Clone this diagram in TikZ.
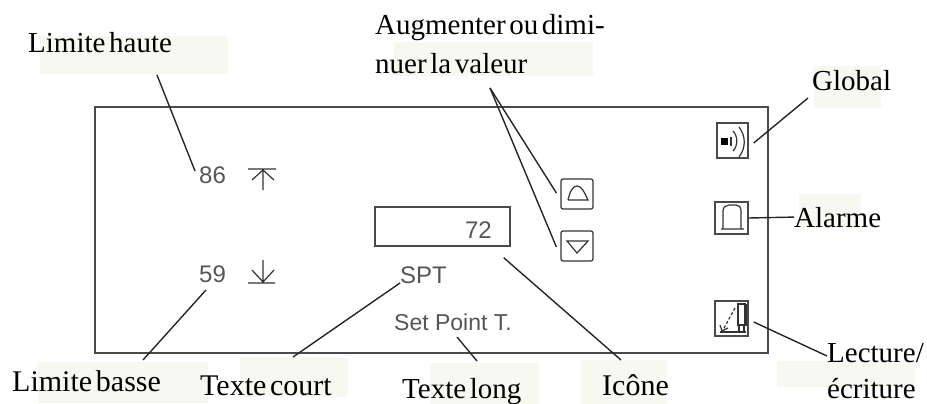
\documentclass[tikz,border=0pt]{standalone}
\usepackage{fontspec}
\setmainfont[WordSpace=0.5]{Liberation Serif}
\newfontfamily\panelfont{Liberation Sans}
\usetikzlibrary{calc, positioning}
\definecolor{patchcolor}{HTML}{F7F8F0}
\definecolor{framecolor}{HTML}{4A4A4A}
\definecolor{valuecolor}{HTML}{555555}

\begin{document}
\begin{tikzpicture}[x=1pt, y=-1pt,
callout/.style={inner sep=0pt, text=black, font=\fontsize{29}{36}\selectfont},
lowcallout/.style={inner sep=0pt, text=black, font=\fontsize{30}{36}\selectfont},
value/.style={inner sep=0pt, text=valuecolor, font=\panelfont\fontsize{24}{28}\selectfont},
iconbox/.style={draw=framecolor, line width=1.4pt, inner sep=0pt, minimum width=33pt, minimum height=33pt},
button/.style={draw=black!80, line width=1.2pt, rounded corners=2pt, inner sep=0pt, minimum width=32pt, minimum height=30pt},
leader/.style={draw=black!85, line width=1.4pt},
glyph/.style={draw=black!80, line width=1.2pt},
patch/.style={fill=patchcolor}]
\useasboundingbox (0,0) rectangle (927,404);
\fill[patch] (40,36) rectangle (228,74);
\fill[patch] (394,42) rectangle (593,76);
\fill[patch] (814,66) rectangle (881,108);
\fill[patch] (799,194) rectangle (861,228);
\fill[patch] (777,361) rectangle (915,387);
\fill[patch] (38,362) rectangle (208,403);
\fill[patch] (240,358) rectangle (348,397);
\fill[patch] (430,363) rectangle (539,404);
\fill[patch] (581,360) rectangle (667,404);
\draw[framecolor, line width=1.3pt] (95,107) rectangle (768,353);

\node[value, anchor=base west] (HIGH) at (199,183) {86};
\node[value, anchor=base west] (LOW)  at (199,282) {59};
\node[value, anchor=base west] (SPT)  at (400,283) {SPT};
\node[value, anchor=base west, font=\panelfont\fontsize{23}{28}\selectfont] (LONG) at (394,330) {Set Point T.};
\node[draw=framecolor, line width=1.3pt, inner sep=0pt, minimum width=135pt, minimum height=39pt] (FIELD) at (442.5,226.5) {};
\node[value, anchor=base east] (TEMP) at (492,238) {72};

\node[button] (UP)   at (577,194) {};
\node[button] (DOWN) at (577,246) {};
\node[iconbox, minimum width=31pt, minimum height=35pt] (SPEAKER) at (732.5,140.5) {};
\node[iconbox, minimum height=32pt] (BELL)  at (731.5,218) {};
\node[iconbox, minimum height=35pt] (TREND) at (731.5,318.5) {};

\node[callout, anchor=base west] (LIMHAUTE) at (28,53)   {Limite haute};
\node[lowcallout, anchor=base west] (LIMBASSE) at (12,391)  {Limite basse};
\node[lowcallout, anchor=base west] (COURT)    at (200,395) {Texte court};
\node[callout, anchor=base west] (TLONG)    at (402,398) {Texte long};
\node[lowcallout, anchor=base west] (ICONE)    at (602,395) {Icône};
\node[callout, anchor=base west] (GLOBAL)   at (812,91)  {Global};
\node[callout, anchor=base west] (ALARME)   at (794,227) {Alarme};
\node[callout, anchor=north west, align=left, font=\fontsize{29}{39}\selectfont] (VALEUR) at (375,14) {Augmenter ou dimi-\\nuer la valeur};
\node[callout, anchor=base west] (LECTURE)  at (827,362) {Lecture/};
\node[callout, anchor=base west] (ECRITURE) at (827,398) {écriture};

\path[leader]
([shift={(129pt,-22pt)}]LIMHAUTE.base west) edge ([shift={(-4pt,12pt)}]HIGH.base west)
([shift={(131pt,31pt)}]LIMBASSE.base west) edge ([shift={(7pt,-8pt)}]LOW.base west)
([shift={(93pt,38pt)}]COURT.base west) edge (SPT.base west)
([shift={(75pt,37pt)}]TLONG.base west) edge ([shift={(63pt,-7pt)}]LONG.base west)
([shift={(19pt,35pt)}]ICONE.base west) edge ([shift={(-7pt,-11pt)}]FIELD.south east)
(BELL.east) edge (ALARME.west)
([shift={(-4pt,-7pt)}]GLOBAL.base west) edge ([shift={(5pt,-2.5pt)}]SPEAKER.east)
([yshift=6pt]LECTURE.base west) edge ([shift={(5pt,-3.5pt)}]TREND.east)
([shift={(115pt,-74pt)}]VALEUR.north west) edge ([shift={(-4pt,1pt)}]UP.west)
([shift={(115pt,-74pt)}]VALEUR.north west) edge ([shift={(-4pt,-1pt)}]DOWN.west);

\draw[glyph] (248,169) -- (276,169) (263,169) -- (263,190) (252,180) -- (263,170) -- (274,180);
\draw[glyph] (248,283) -- (275,283) (263,260) -- (263,283) (252,270) -- (263,282) -- (274,270);

\draw[glyph] (568,200) -- (588,200) .. controls (584,191) and (581,186) .. (577,186) .. controls (573,186) and (570,191) .. (568,200);
\draw[glyph] (567,241) -- (588,241) -- (577,253) -- cycle;

\fill[black] (721,138) rectangle (728,145);
\draw[glyph] (731,137) -- (731,146);
\draw[glyph] (733,131) .. controls (738,136) and (738,146) .. (733,151);
\draw[glyph] (739,127) .. controls (746,136) and (746,148) .. (739,157);

\draw[glyph] (721,229) -- (744,229) (723,229) -- (723,211) .. controls (723,207) and (726,205) .. (729,205) -- (736,205) .. controls (739,205) and (741,207) .. (741,211) -- (741,229);

\draw[glyph] (720,332) -- (746,332) (738,304) rectangle (745,325) (739,325) -- (739,332) (744,325) -- (744,332);
\draw[glyph, line width=2.4pt] (746,304) -- (746,326);
\draw[glyph, densely dashed] (735,308) -- (723,330);
\draw[glyph] (720,325) -- (722,331) -- (728,328);
\end{tikzpicture}
\end{document}
